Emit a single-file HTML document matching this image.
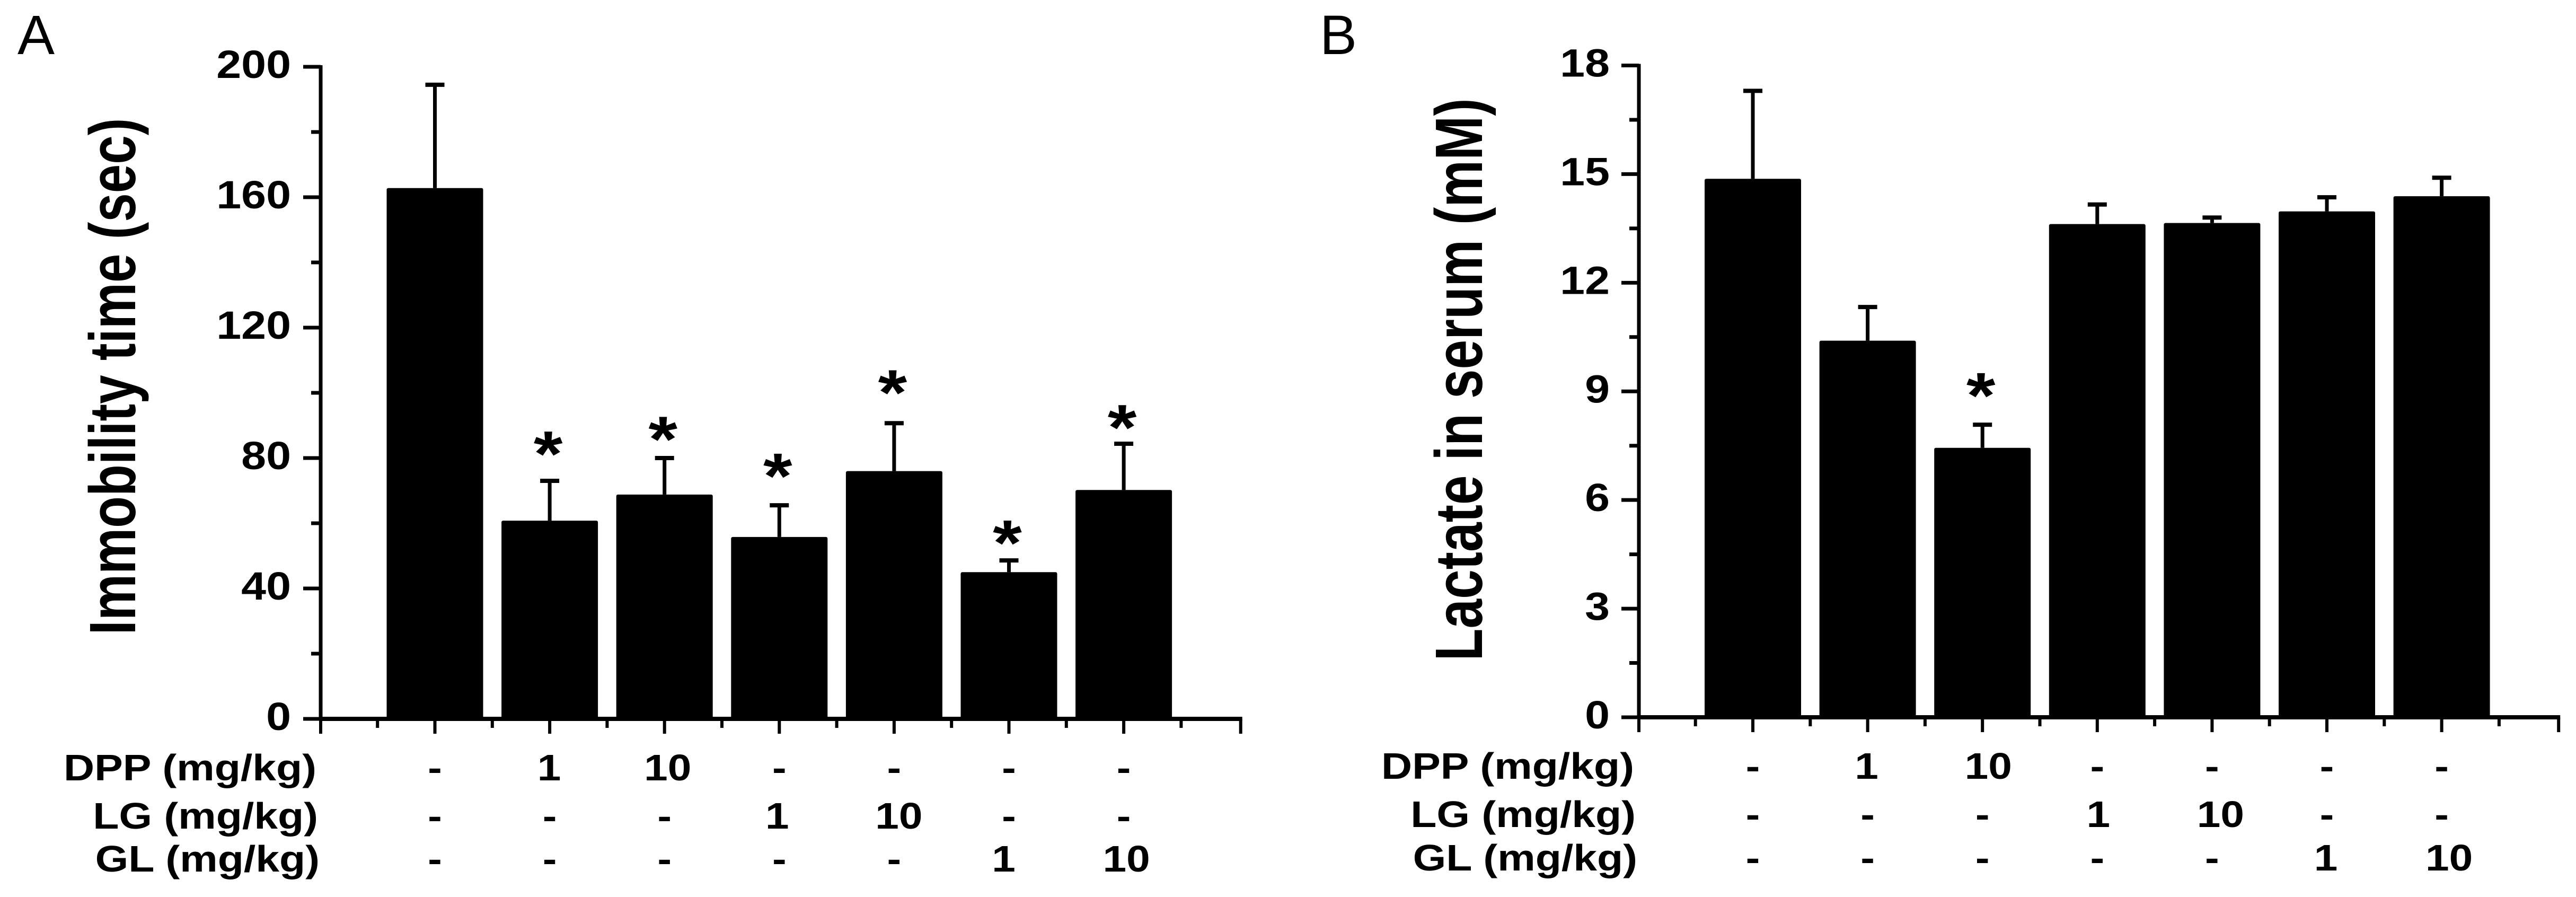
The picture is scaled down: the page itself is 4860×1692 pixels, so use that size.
<!DOCTYPE html>
<html lang="en">
<head>
<meta charset="utf-8">
<title>Immobility time and serum lactate</title>
<style>
html,body{margin:0;padding:0;background:#fff;width:4860px;height:1692px;overflow:hidden}
svg{display:block}
text{fill:#000;font-family:"Liberation Sans",Arial,sans-serif}
</style>
</head>
<body>
<svg id="figure" xmlns="http://www.w3.org/2000/svg" width="4860" height="1692" viewBox="0 0 4860 1692">
<rect width="4860" height="1692" fill="#fff"/>
</svg>
<script>
const groups = ['control','dpp-1','dpp-10','lg-1','lg-10','gl-1','gl-10'];
const dppDoses = ['-','1','10','-','-','-','-'];
const lgDoses = ['-','-','-','1','10','-','-'];
const glDoses = ['-','-','-','-','-','1','10'];
const doseRowTitles = ['DPP (mg/kg)','LG (mg/kg)','GL (mg/kg)'];

const immobilityMeans = [162.8,60.8,68.8,55.8,76,45,70.2];
const immobilityErrorTops = [194.5,73,80,65.5,90.7,48.6,84.4];
const immobilityStars = [null,85.2,89.7,78.4,104,57.9,93.3];
const immobilityTicks = [0,40,80,120,160,200];
const immobilityMinorTicks = [20,60,100,140,180];

const lactateMeans = [14.87,10.4,7.44,13.62,13.65,13.97,14.39];
const lactateErrorTops = [17.3,11.33,8.08,14.16,13.8,14.36,14.9];
const lactateStars = [null,null,9.24,null,null,null,null];
const lactateTicks = [0,3,6,9,12,15,18];
const lactateMinorTicks = [1.5,4.5,7.5,10.5,13.5,16.5];

const NS = 'http://www.w3.org/2000/svg';
const figure = document.getElementById('figure');

function makeGroup(parent){
  const g = document.createElementNS(NS,'g');
  parent.appendChild(g);
  return g;
}
function makeLine(parent,x1,y1,x2,y2,w){
  const l = document.createElementNS(NS,'line');
  l.setAttribute('x1',x1);l.setAttribute('y1',y1);l.setAttribute('x2',x2);l.setAttribute('y2',y2);
  l.setAttribute('stroke','#000');l.setAttribute('stroke-width',w);
  parent.appendChild(l);
  return l;
}
function makeText(parent,str,x,y,size,anchor,weight,sx,rot){
  const t = document.createElementNS(NS,'text');
  t.textContent = str;
  t.setAttribute('font-size',size);
  t.setAttribute('font-weight',weight);
  t.setAttribute('text-anchor',anchor);
  t.setAttribute('transform','translate('+x+' '+y+') scale('+sx+' 1)'+(rot?' rotate('+rot+')':''));
  parent.appendChild(t);
  return t;
}

function drawPanel(cfg){
  const panel = makeGroup(figure);
  
  
  const yScale = v => cfg.y0 - v*(cfg.y0-cfg.yTop)/cfg.yMax;
  const xScale = i => cfg.x0 + 216.6*i;

  const letter = makeText(panel,cfg.letter,cfg.letterX,102,105,'start','normal',1,0);
  
  

  const title = makeText(panel,cfg.title,cfg.titleX,cfg.titleY,cfg.titleSize,'middle','bold',1.26,-90);
  
  

  cfg.means.forEach((m,i)=>{
    const cx = xScale(i);
    const stem = makeLine(panel,cx,yScale(m),cx,yScale(cfg.errs[i]),7);
    
    
    const cap = makeLine(panel,cx-18,yScale(cfg.errs[i]),cx+18,yScale(cfg.errs[i]),8);
    
    
    const bar = document.createElementNS(NS,'rect');
    bar.setAttribute('x',cx-91);
    bar.setAttribute('y',yScale(m));
    bar.setAttribute('width',182);
    bar.setAttribute('height',yScale(0)-yScale(m));
    bar.setAttribute('rx',3);
    bar.setAttribute('fill','#000');
    
    
    panel.appendChild(bar);
    if(cfg.stars[i]!==null){
      const star = makeText(panel,'*',cx-3,yScale(cfg.stars[i])+66,122,'middle','bold',1.15,0);
      
      
    }
  });

  const yAxis = makeLine(panel,cfg.axisX,yScale(cfg.yMax)-3,cfg.axisX,yScale(0)+3,7);
  
  
  cfg.ticks.forEach(v=>{
    const tick = makeLine(panel,cfg.axisX-33,yScale(v),cfg.axisX,yScale(v),7);
    
    
    const lab = makeText(panel,String(v),cfg.labelRight,yScale(v)+21,74,'end','bold',1.14,0);
    
    
  });
  cfg.minor.forEach(v=>{
    const tick = makeLine(panel,cfg.axisX-18,yScale(v),cfg.axisX,yScale(v),7);
    
    
  });

  const xEnd = xScale(7)+4;
  const xAxis = makeLine(panel,cfg.axisX,yScale(0),xEnd+3,yScale(0),8);
  
  
  for(let i=-1;i<=7;i++){
    const mx = i===7 ? xEnd : (i===-1 ? cfg.axisX : xScale(i));
    const major = makeLine(panel,mx,yScale(0),mx,yScale(0)+28,6);
    
    
    if(i<7){
      const minorX = xScale(i)+108.3;
      const minor = makeLine(panel,minorX,yScale(0),minorX,yScale(0)+17,6);
      
      
    }
  }

  [dppDoses,lgDoses,glDoses].forEach((row,r)=>{
    const rowTitle = makeText(panel,doseRowTitles[r],cfg.rowRight+[0,3,6][r],cfg.rowY[r],70,'end','bold',1.15,0);
    
    
    row.forEach((d,i)=>{
      const off = d==='10' ? cfg.tenNudge[r] : (d==='1' ? cfg.oneNudge[r] : 0);
      const cell = makeText(panel,d,xScale(i)+off,cfg.rowY[r],70,'middle','bold',1.146,0);
      
      
    });
  });
}

drawPanel({
  name:'panel-a-immobility',letter:'A',letterX:33,
  title:'Immobility time (sec)',titleX:255,titleY:710,titleSize:98,
  means:immobilityMeans,errs:immobilityErrorTops,stars:immobilityStars,
  ticks:immobilityTicks,minor:immobilityMinorTicks,
  yMax:200,y0:1356,yTop:126,x0:820.5,axisX:605,labelRight:549,
  rowRight:597,rowY:[1472,1563,1644],tenNudge:[6,9,5],oneNudge:[-1,-4,-10]
});
drawPanel({
  name:'panel-b-lactate',letter:'B',letterX:2490,
  title:'Lactate in serum (mM)',titleX:2796,titleY:716,titleSize:100,
  means:lactateMeans,errs:lactateErrorTops,stars:lactateStars,
  ticks:lactateTicks,minor:lactateMinorTicks,
  yMax:18,y0:1353,yTop:123.5,x0:3307,axisX:3092,labelRight:3037,
  rowRight:3083,rowY:[1469,1560,1642],tenNudge:[11,16,14],oneNudge:[-2,2,-2]
});
</script>
</body>
</html>
